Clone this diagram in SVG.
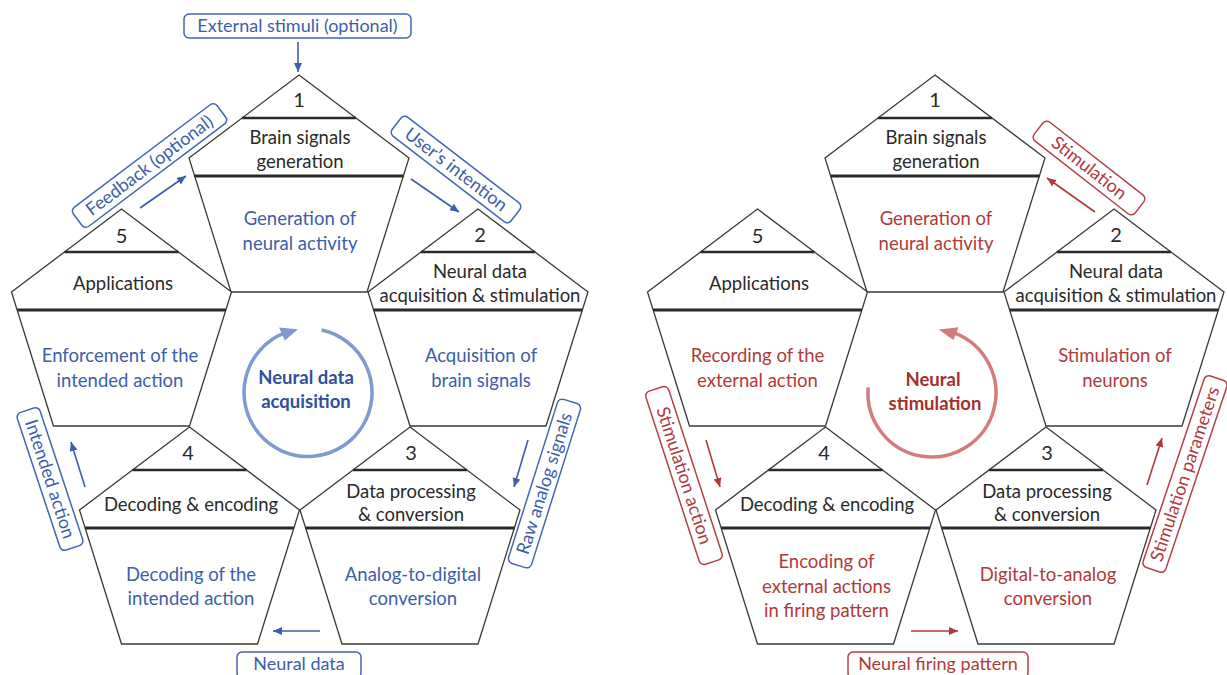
<svg xmlns="http://www.w3.org/2000/svg" xmlns:xlink="http://www.w3.org/1999/xlink" width="1227" height="675" viewBox="0 0 1227 675">
<style>
text{font-family:Lato,"Open Sans","Liberation Sans",sans-serif;text-anchor:middle}
.pent{fill:#fff;stroke:#3a3a3a;stroke-width:1.3;stroke-linejoin:miter}
.d1{stroke:#2a2a2a;stroke-width:2.4}
.d2{stroke:#2a2a2a;stroke-width:3}
.num{font-size:20px;fill:#2a2a2a}
.blk{font-size:18.5px;fill:#2a2a2a}
.bt{font-size:18.5px;fill:#3d5ea9}
.rt{font-size:18.5px;fill:#b03a3a}
.bbox{fill:#fff;stroke:#4266b5;stroke-width:1.5}
.rbox{fill:#fff;stroke:#b54242;stroke-width:1.5}
.bl{font-size:18px;fill:#3d5ea9}
.rl{font-size:18px;fill:#b03a3a}
.barr{stroke:#3d5ea9;stroke-width:1.6;fill:none}
.rarr{stroke:#b03a3a;stroke-width:1.6;fill:none}
.bc{font-size:18.5px;font-weight:bold;fill:#2f509d}
.rc{font-size:18.5px;font-weight:bold;fill:#a3302f}
</style>
<defs>
<g id="pshape">
<path class="pent" d="M0,0 L110,83 L68,217 L-68,217 L-110,83 Z"/>
<line class="d1" x1="-57" y1="43" x2="57" y2="43"/>
<line class="d2" x1="-104.4" y1="101" x2="104.4" y2="101"/>
</g>
<marker id="mb" markerUnits="userSpaceOnUse" markerWidth="10" markerHeight="9" refX="9" refY="4" orient="auto"><path d="M0,0 L9,4 L0,8 Z" fill="#3d5ea9"/></marker>
<marker id="mr" markerUnits="userSpaceOnUse" markerWidth="10" markerHeight="9" refX="9" refY="4" orient="auto"><path d="M0,0 L9,4 L0,8 Z" fill="#b03a3a"/></marker>
</defs>
<rect width="1227" height="675" fill="#fff"/>

<!-- LEFT: neural data acquisition -->
<g id="L-p1" transform="translate(299,75)">
<use xlink:href="#pshape"/>
<text class="num" x="0" y="32">1</text>
<text class="blk" x="1" y="69">Brain signals</text>
<text class="blk" x="1" y="93">generation</text>
<text class="bt" x="1" y="150">Generation of</text>
<text class="bt" x="1" y="175">neural activity</text>
</g>
<g id="L-p2" transform="translate(478,209)">
<use xlink:href="#pshape"/>
<text class="num" x="2" y="33">2</text>
<text class="blk" x="2" y="69">Neural data</text>
<text class="blk" x="2" y="93">acquisition &amp; stimulation</text>
<text class="bt" x="3" y="153">Acquisition of</text>
<text class="bt" x="3" y="178">brain signals</text>
</g>
<g id="L-p3" transform="translate(410,427)">
<use xlink:href="#pshape"/>
<text class="num" x="1" y="33">3</text>
<text class="blk" x="1" y="71">Data processing</text>
<text class="blk" x="1" y="94">&amp; conversion</text>
<text class="bt" x="3" y="154">Analog-to-digital</text>
<text class="bt" x="3" y="178">conversion</text>
</g>
<g id="L-p4" transform="translate(189.5,427)">
<use xlink:href="#pshape"/>
<text class="num" x="-1.5" y="33">4</text>
<text class="blk" x="1.5" y="84">Decoding &amp; encoding</text>
<text class="bt" x="1.5" y="154">Decoding of the</text>
<text class="bt" x="1.5" y="178">intended action</text>
</g>
<g id="L-p5" transform="translate(121.5,209)">
<use xlink:href="#pshape"/>
<text class="num" x="0" y="34">5</text>
<text class="blk" x="1.5" y="81">Applications</text>
<text class="bt" x="-1.5" y="153">Enforcement of the</text>
<text class="bt" x="-1.5" y="178">intended action</text>
</g>
<g id="L-cycle">
<path d="M321.7,330 A64,64 0 1 1 284,333.2" fill="none" stroke="#7e9ad0" stroke-width="3.5"/>
<polygon points="298,329.3 279.1,327.6 284.8,340.4" fill="#7e9ad0"/>
<text class="bc" x="306" y="384">Neural data</text>
<text class="bc" x="306" y="408">acquisition</text>
</g>

<g id="L-lab-ext">
<rect class="bbox" x="184" y="14" width="227" height="24" rx="5"/>
<text class="bl" x="297.5" y="32">External stimuli (optional)</text>
</g>
<g id="L-lab-fb" transform="translate(149.5,165.5) rotate(-37)">
<rect class="bbox" x="-90" y="-12" width="180" height="24" rx="5"/>
<text class="bl" x="0" y="6">Feedback (optional)</text>
</g>
<g id="L-lab-ui" transform="translate(456,169.5) rotate(37.6)">
<rect class="bbox" x="-75" y="-12" width="150" height="24" rx="5"/>
<text class="bl" x="0" y="6">User’s intention</text>
</g>
<g id="L-lab-raw" transform="translate(544.5,483.5) rotate(-72.5)">
<rect class="bbox" x="-86" y="-12" width="172" height="24" rx="5"/>
<text class="bl" x="0" y="6">Raw analog signals</text>
</g>
<g id="L-lab-nd">
<rect class="bbox" x="237" y="652" width="124" height="26" rx="5"/>
<text class="bl" x="299" y="670">Neural data</text>
</g>
<g id="L-lab-ia" transform="translate(50,479) rotate(71.7)">
<rect class="bbox" x="-72.5" y="-12" width="145" height="24" rx="5"/>
<text class="bl" x="0" y="6">Intended action</text>
</g>

<!-- RIGHT: neural stimulation -->
<g id="R-p1" transform="translate(935,75)">
<use xlink:href="#pshape"/>
<text class="num" x="0" y="32">1</text>
<text class="blk" x="1" y="69">Brain signals</text>
<text class="blk" x="1" y="93">generation</text>
<text class="rt" x="1" y="150">Generation of</text>
<text class="rt" x="1" y="175">neural activity</text>
</g>
<g id="R-p2" transform="translate(1114,209)">
<use xlink:href="#pshape"/>
<text class="num" x="2" y="33">2</text>
<text class="blk" x="2" y="69">Neural data</text>
<text class="blk" x="2" y="93">acquisition &amp; stimulation</text>
<text class="rt" x="1" y="153">Stimulation of</text>
<text class="rt" x="1" y="178">neurons</text>
</g>
<g id="R-p3" transform="translate(1046,427)">
<use xlink:href="#pshape"/>
<text class="num" x="1" y="33">3</text>
<text class="blk" x="1" y="71">Data processing</text>
<text class="blk" x="1" y="94">&amp; conversion</text>
<text class="rt" x="2" y="154">Digital-to-analog</text>
<text class="rt" x="2" y="178">conversion</text>
</g>
<g id="R-p4" transform="translate(825.5,427)">
<use xlink:href="#pshape"/>
<text class="num" x="-1.5" y="33">4</text>
<text class="blk" x="1.5" y="84">Decoding &amp; encoding</text>
<text class="rt" x="1" y="141">Encoding of</text>
<text class="rt" x="1" y="166">external actions</text>
<text class="rt" x="1" y="190">in firing pattern</text>
</g>
<g id="R-p5" transform="translate(757.5,209)">
<use xlink:href="#pshape"/>
<text class="num" x="0" y="34">5</text>
<text class="blk" x="1.5" y="81">Applications</text>
<text class="rt" x="0" y="153">Recording of the</text>
<text class="rt" x="0" y="178">external action</text>
</g>
<g id="R-cycle">
<path d="M868.2,387.4 A64,64 0 1 0 953.9,332.9" fill="none" stroke="#d47c7c" stroke-width="3.5"/>
<polygon points="938.7,329.4 958.6,327.2 953.4,340.1" fill="#d47c7c"/>
<text class="rc" x="933" y="386">Neural</text>
<text class="rc" x="935" y="410">stimulation</text>
</g>

<g id="R-lab-stim" transform="translate(1089,168) rotate(38)">
<rect class="rbox" x="-64" y="-12" width="128" height="24" rx="5"/>
<text class="rl" x="0" y="6">Stimulation</text>
</g>
<g id="R-lab-sp" transform="translate(1185,474) rotate(-71.5)">
<rect class="rbox" x="-101" y="-12" width="202" height="24" rx="5"/>
<text class="rl" x="0" y="6">Stimulation parameters</text>
</g>
<g id="R-lab-nfp">
<rect class="rbox" x="848" y="652" width="180" height="26" rx="5"/>
<text class="rl" x="938" y="670">Neural firing pattern</text>
</g>
<g id="R-lab-sa" transform="translate(684,475.5) rotate(72)">
<rect class="rbox" x="-91" y="-12" width="182" height="24" rx="5"/>
<text class="rl" x="0" y="6">Stimulation action</text>
</g>

<g id="connectors">
<line class="barr" x1="298" y1="42" x2="298" y2="72" marker-end="url(#mb)"/>
<line class="barr" x1="140" y1="208" x2="186" y2="176" marker-end="url(#mb)"/>
<line class="barr" x1="411" y1="179" x2="459" y2="212" marker-end="url(#mb)"/>
<line class="barr" x1="528" y1="440" x2="514" y2="487" marker-end="url(#mb)"/>
<line class="barr" x1="320" y1="631" x2="273" y2="631" marker-end="url(#mb)"/>
<line class="barr" x1="85" y1="487" x2="71" y2="442" marker-end="url(#mb)"/>
<line class="rarr" x1="1095" y1="212" x2="1047" y2="178" marker-end="url(#mr)"/>
<line class="rarr" x1="1147" y1="485" x2="1162" y2="438" marker-end="url(#mr)"/>
<line class="rarr" x1="911" y1="631" x2="958" y2="631" marker-end="url(#mr)"/>
<line class="rarr" x1="706" y1="440" x2="720" y2="487" marker-end="url(#mr)"/>
</g>
</svg>
